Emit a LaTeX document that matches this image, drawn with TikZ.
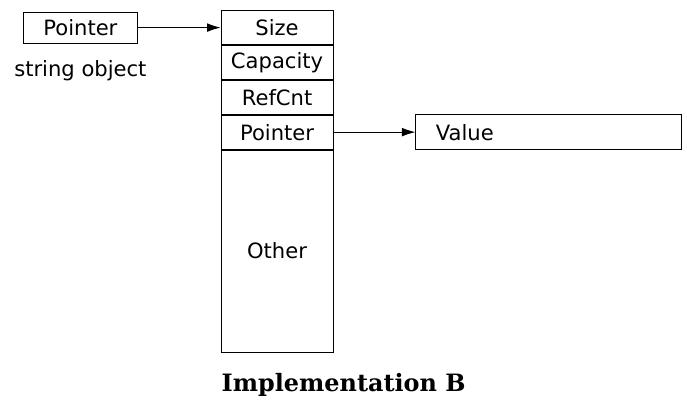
\documentclass[tikz,border=0pt]{standalone}
\usepackage{fontspec}
\setmainfont{DejaVu Sans}
\newfontfamily\captionserif{DejaVu Serif}
\usetikzlibrary{arrows.meta, positioning}

\begin{document}
\begin{tikzpicture}[
		node distance=2cm and 2cm,
		every node/.style={font=\fontsize{15}{18}\selectfont},
		cell/.style={draw, line width=0.6pt, minimum width=2.8cm, minimum height=0.85cm, inner sep=0pt},
		ptrbox/.style={draw, line width=0.6pt, minimum width=2.83cm, minimum height=0.78cm, inner sep=0pt},
		link/.style={-{Latex[length=3.4mm, width=2.2mm]}, line width=0.7pt},
		]
		\useasboundingbox (0,0) rectangle (17.175,-10.15);
		
		% string object
		\node[ptrbox] at (2.01,-0.69) (strptr) {Pointer};
		\node[below = 0.3cm of strptr] (strlabel) {string object};
		
		% shared block
		\node[cell, right = 2.08cm of strptr] (size) {Size};
		\node[cell, below = 0cm of size] (capacity) {Capacity};
		\node[cell, below = 0cm of capacity] (refcnt) {RefCnt};
		\node[cell, below = 0cm of refcnt] (blockptr) {Pointer};
		\node[cell, below = 0cm of blockptr, minimum height=5.05cm] (other) {Other};
		
		% character data
		\node[draw, line width=0.6pt, right = 2.05cm of blockptr, minimum height=0.87cm,
			text width=6.65cm, inner xsep=0pt, align=left, anchor=west] (value) {\hspace{0.5cm}Value};
		
		\draw[link] (strptr) -- (size);
		\draw[link] (blockptr) -- (value);
		
		\node at (8.59,-9.63) (caption) {\captionserif\bfseries\fontsize{17}{20}\selectfont Implementation B};
		
	\end{tikzpicture}
\end{document}
